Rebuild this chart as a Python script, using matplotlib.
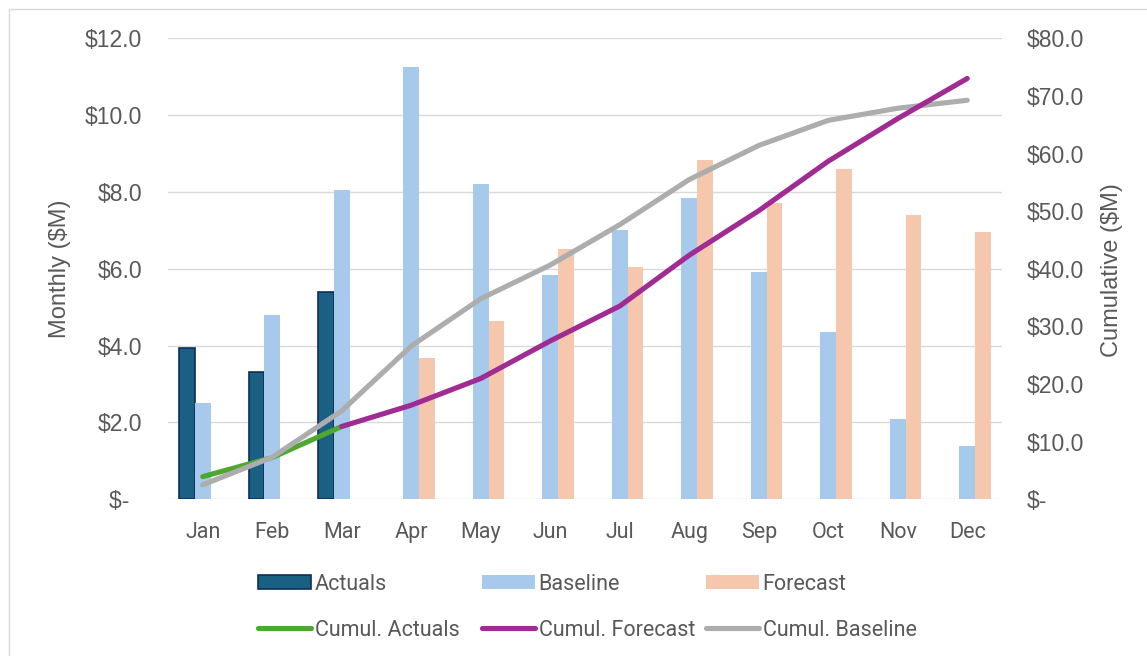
import matplotlib
matplotlib.use("Agg")
import matplotlib.pyplot as plt
from matplotlib.patches import Patch, Rectangle
from matplotlib.lines import Line2D
from matplotlib.ticker import FuncFormatter, MultipleLocator
import numpy as np

# Monthly values ($M)
months = ["Jan", "Feb", "Mar", "Apr", "May", "Jun",
          "Jul", "Aug", "Sep", "Oct", "Nov", "Dec"]
actuals = [3.93, 3.32, 5.39]
baseline = [2.51, 4.80, 8.05, 11.24, 8.21, 5.84, 7.01, 7.83, 5.91, 4.36, 2.10, 1.39]
forecast = [None, None, None, 3.69, 4.64, 6.51, 6.05, 8.83, 7.72, 8.59, 7.40, 6.96]

# Cumulative values ($M)
cumul_actuals = [3.93, 7.25, 12.64]
cumul_forecast = [12.64, 16.33, 20.97, 27.48, 33.53, 42.36, 50.08, 58.67, 66.07, 73.03]
cumul_baseline = [2.51, 7.31, 15.36, 26.60, 34.81, 40.65, 47.66, 55.49, 61.40, 65.76, 67.86, 69.25]

C_ACT = "#1a6082"
C_ACT_EDGE = "#0f2d5e"
C_BASE = "#a7caec"
C_FCST = "#f5c7ac"
C_GREEN = "#4ea72e"
C_PURPLE = "#a02b93"
C_GRAY = "#adadad"
C_TEXT = "#595959"
C_GRID = "#d9d9d9"

W, H = 1147, 656
fig = plt.figure(figsize=(W / 100, H / 100), dpi=100)
fig.patch.set_facecolor("white")

# light chart-area border
fig.patches.append(Rectangle((9 / W, -0.1), 1.2, 1 - 9 / H + 0.1,
                             transform=fig.transFigure, fill=False,
                             edgecolor=C_GRID, linewidth=1.0))

left, right = 168 / W, 1002 / W
bottom, top = 1 - 499.3 / H, 1 - 38.3 / H
ax = fig.add_axes([left, bottom, right - left, top - bottom])
ax2 = ax.twinx()

x = np.arange(len(months))
bw = 0.224

# bars
ax.bar(x[:len(actuals)] - bw, actuals, width=bw, color=C_ACT,
       edgecolor=C_ACT_EDGE, linewidth=1.2, zorder=3)
ax.bar(x, baseline, width=bw, color=C_BASE, zorder=3)
f_idx = [i for i, v in enumerate(forecast) if v is not None]
ax.bar(x[f_idx] + bw, [forecast[i] for i in f_idx], width=bw,
       color=C_FCST, zorder=3)

ax.set_xlim(-0.5, len(months) - 0.5)
ax.set_ylim(0, 12)
ax.yaxis.set_major_locator(MultipleLocator(2))
ax.grid(axis="y", color=C_GRID, linewidth=1.0, zorder=0)
ax.set_axisbelow(True)
for s in ax.spines.values():
    s.set_visible(False)
for s in ax2.spines.values():
    s.set_visible(False)


def money(v, pos):
    if abs(v) < 1e-9:
        return "$-  "
    return f"${v:.1f}"


def money_r(v, pos):
    if abs(v) < 1e-9:
        return "$-"
    return f"${v:.1f}"


ax.yaxis.set_major_formatter(FuncFormatter(money))
ax.tick_params(axis="y", length=0, pad=18.5, labelsize=16.5, labelcolor=C_TEXT)
for t in ax.get_yticklabels():
    t.set_fontfamily("Liberation Sans")
ax.set_xticks(x)
ax.set_xticklabels(months, fontfamily="Roboto", fontsize=15.5, color=C_TEXT)
ax.tick_params(axis="x", length=0, pad=16.5)

# cumulative lines
lw = 3.7
ax2.plot(x[:len(cumul_actuals)], cumul_actuals, color=C_GREEN, lw=lw,
         solid_capstyle="round", solid_joinstyle="round", zorder=3)
ax2.plot(x[len(months) - len(cumul_forecast):], cumul_forecast, color=C_PURPLE,
         lw=lw, solid_capstyle="round", solid_joinstyle="round", zorder=4)
ax2.plot(x, cumul_baseline, color=C_GRAY, lw=lw,
         solid_capstyle="round", solid_joinstyle="round", zorder=3.5)
ax2.set_ylim(0, 80)
ax2.yaxis.set_major_locator(MultipleLocator(10))
ax2.yaxis.set_major_formatter(FuncFormatter(money_r))
ax2.tick_params(axis="y", length=0, pad=18, labelsize=16.5, labelcolor=C_TEXT)
for t in ax2.get_yticklabels():
    t.set_fontfamily("Liberation Sans")

# axis titles
fig.text(60 / W, 1 - 269 / H, "Monthly ($M)", rotation=90, ha="center",
         va="center", fontsize=17, color=C_TEXT, fontfamily="Liberation Sans")
fig.text(1112 / W, 1 - 270 / H, "Cumulative ($M)", rotation=90, ha="center",
         va="center", fontsize=17, color=C_TEXT, fontfamily="Liberation Sans")

# legend, three fixed-width columns of two rows
cols = [
    [Patch(facecolor=C_ACT, edgecolor=C_ACT_EDGE, linewidth=1.2),
     Line2D([], [], color=C_GREEN, lw=lw, solid_capstyle="round")],
    [Patch(facecolor=C_BASE),
     Line2D([], [], color=C_PURPLE, lw=lw, solid_capstyle="round")],
    [Patch(facecolor=C_FCST),
     Line2D([], [], color=C_GRAY, lw=lw, solid_capstyle="round")],
]
labels = [["Actuals", "Cumul. Actuals"],
          ["Baseline", "Cumul. Forecast"],
          ["Forecast", "Cumul. Baseline"]]
col_x = [258, 482, 706]
for hs, ls, cx in zip(cols, labels, col_x):
    leg = fig.legend(hs, ls, loc="upper left",
                     bbox_to_anchor=(cx / W, 1 - 574 / H),
                     bbox_transform=fig.transFigure, frameon=False,
                     borderpad=0, borderaxespad=0, handlelength=2.45,
                     handleheight=0.62, handletextpad=0.18, labelspacing=1.15,
                     prop={"family": "Roboto", "size": 15.5})
    for t in leg.get_texts():
        t.set_color(C_TEXT)

fig.savefig("out.png", dpi=100, facecolor="white")
